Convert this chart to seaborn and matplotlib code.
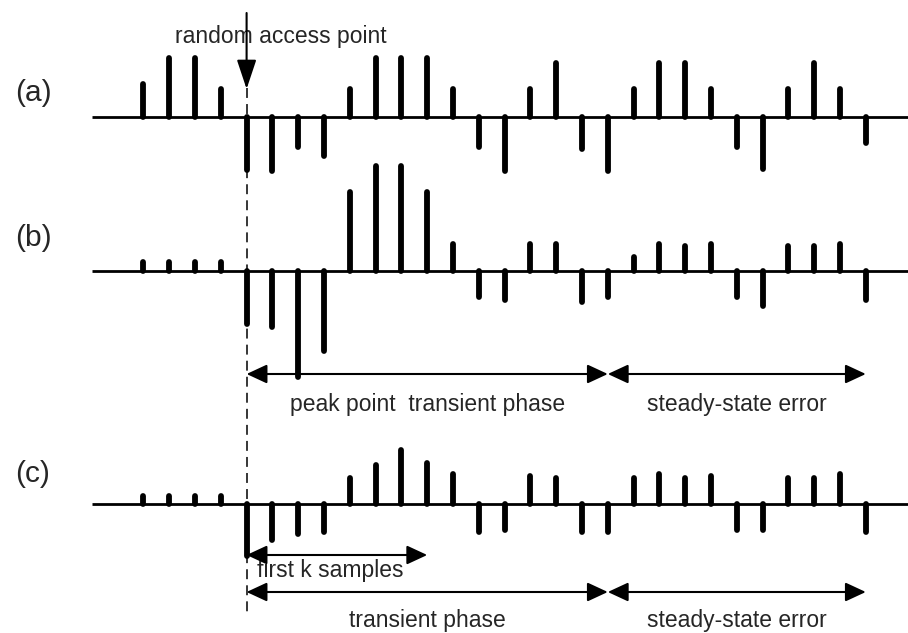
import numpy as np
import pandas as pd
import matplotlib
matplotlib.use("Agg")
import matplotlib.pyplot as plt
import seaborn as sns

# ---- data (sample amplitudes, in drawing units) ----
samples = list(range(29))
row_labels = ["(a)", "(b)", "(c)"]
amp_a = [33, 59, 59, 28, -53, -54, -30, -39, 28, 59, 59, 59, 28, -30, -54,
         28, 54, -32, -54, 28, 54, 54, 28, -30, -52, 28, 54, 28, -26]
amp_b = [9, 9, 9, 9, -53, -56, -106, -80, 79, 105, 105, 79, 27, -26, -29,
         27, 27, -31, -26, 14, 27, 25, 27, -26, -35, 25, 25, 27, -29]
amp_c = [8, 8, 8, 8, -52, -36, -30, -28, 26, 39, 54, 41, 30, -28, -26,
         28, 26, -28, -28, 26, 30, 26, 28, -26, -26, 26, 26, 30, -28]
rap_index = 4          # random access point
first_k_end = 11
transient_end = 18
steady_end = 28

sns.set_theme(style="white")
plt.rcParams['font.family'] = ['Liberation Sans', 'DejaVu Sans']

df = pd.concat([
    pd.DataFrame({"row": lab, "n": samples, "amp": amp})
    for lab, amp in zip(row_labels, [amp_a, amp_b, amp_c])
])
baselines = {"(a)": 117, "(b)": 271, "(c)": 504}

fig = plt.figure(figsize=(9.08, 6.33), dpi=100)
ax = fig.add_axes([0, 0, 1, 1])
x0, dx = 143.4, 25.8
ax.set_xlim(-x0 / dx, (908 - x0) / dx)
ax.set_ylim(633, 0)
ax.axis("off")

# dashed random access line
ax.plot([rap_index, rap_index], [88, 614], color="black", lw=1.1,
        linestyle=(0, (6.5, 4)), zorder=1)

for lab, sub in df.groupby("row", sort=False):
    b = baselines[lab]
    ax.plot([(92 - x0) / dx, (908 - x0) / dx], [b, b], color="black", lw=2.0,
            solid_capstyle="butt", zorder=2)
    ax.vlines(sub["n"], b, b - sub["amp"], color="black", lw=4.2,
              capstyle="round", zorder=3)

# row labels
for lab, y in zip(row_labels, [93, 238, 474]):
    ax.text((33 - x0) / dx, y, lab, fontsize=21.5, ha="center", va="center")

def darrow(xa, xb, y, both=True):
    style = "<|-|>" if both else "-|>"
    ax.annotate("", xy=(xb, y), xytext=(xa, y),
                arrowprops=dict(arrowstyle=f"{style},head_length=1.25,head_width=0.58",
                                mutation_scale=10, color="black", lw=1.5,
                                shrinkA=0, shrinkB=0), zorder=4)

# random access point arrow
ax.annotate("", xy=(rap_index, 89), xytext=(rap_index, 13),
            arrowprops=dict(arrowstyle="-|>,head_length=1.8,head_width=0.6",
                            mutation_scale=10, color="black", lw=1.5,
                            shrinkA=0, shrinkB=0), zorder=4)
ax.text((281 - x0) / dx, 36, "random access point", fontsize=16.5,
        ha="center", va="center")

# row (b) arrows
darrow(rap_index, transient_end, 374)
darrow(transient_end, steady_end, 374)
ax.text((428 - x0) / dx, 404, "peak point  transient phase", fontsize=16.5,
        ha="center", va="center")
ax.text((737 - x0) / dx, 405, "steady-state error", fontsize=16.5,
        ha="center", va="center")

# row (c) arrows
darrow(rap_index, first_k_end, 555)
ax.text((330 - x0) / dx, 571, "first k samples", fontsize=16.5,
        ha="center", va="center")
darrow(rap_index, transient_end, 592)
darrow(transient_end, steady_end, 592)
ax.text((427 - x0) / dx, 620, "transient phase", fontsize=16.5,
        ha="center", va="center")
ax.text((737 - x0) / dx, 620, "steady-state error", fontsize=16.5,
        ha="center", va="center")

fig.savefig("out.png", dpi=100)
